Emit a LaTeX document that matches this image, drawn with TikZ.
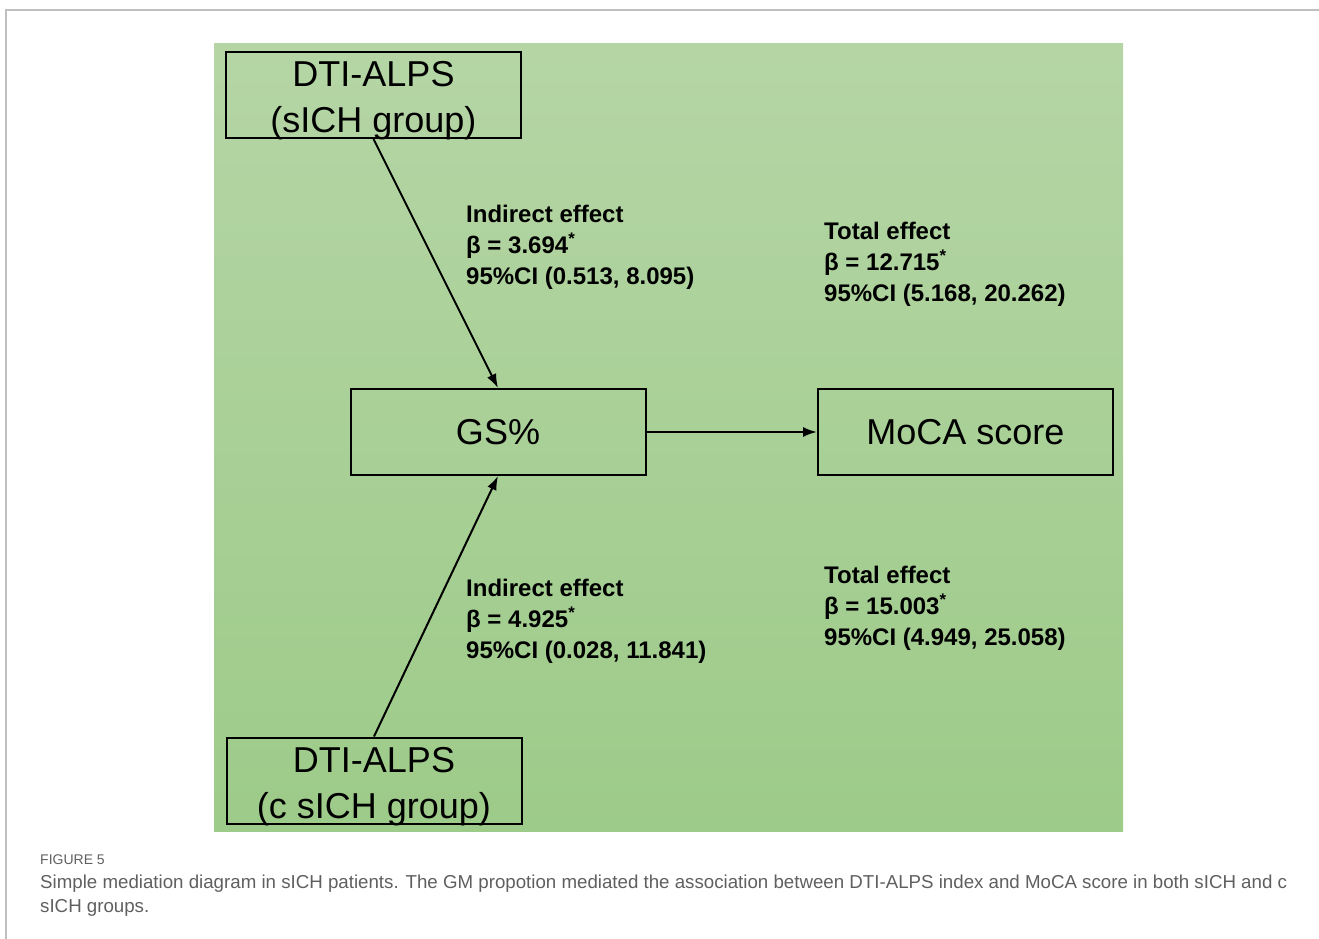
\documentclass[tikz,border=0pt]{standalone}
\usepackage{fontspec}
\setmainfont{Liberation Sans}
\usepackage{tikz}
\usetikzlibrary{arrows.meta, positioning}
\definecolor{framegray}{rgb}{0.75, 0.75, 0.75}
\definecolor{greentop}{RGB}{181, 213, 165}
\definecolor{greenbot}{RGB}{157, 203, 137}
\definecolor{captiongray}{RGB}{95, 95, 95}
\newcommand{\twolines}[2]{\raisebox{-12pt}[0pt][0pt]{\begin{tabular}{@{}c@{}}#1\\#2\end{tabular}}}

\begin{document}
\begin{tikzpicture}[x=1pt, y=-1pt,
		varbox/.style={draw, line width=2pt, minimum width=295pt, minimum height=86pt, inner sep=0pt, align=center, font=\fontsize{36}{46}\selectfont},
		effect/.style={anchor=west, align=left, inner sep=0pt, font=\fontsize{24}{31}\selectfont\bfseries},
		link/.style={line width=2pt, -{Latex[length=14pt, width=10pt]}}]
		\useasboundingbox (0,0) rectangle (1319,939);
		\draw [framegray, line width=2pt] (6,939)--(6,10.5)--(1319,10.5);
		\shade [top color=greentop, bottom color=greenbot] (214,44) rectangle (1123,831);
		\node [varbox] (alpstop) at (373.5,95) {\twolines{DTI-ALPS}{(sICH group)}};
		\node [varbox] (gs) at (498,432) {GS\%};
		\node [varbox] (moca) at (965.5,432) {MoCA score};
		\node [varbox] (alpsbot) at (374,780.5) {\twolines{DTI-ALPS}{(c sICH group)}};
		\draw [link] (alpstop.south)--(gs.north);
		\draw [link] (alpsbot.north)--(gs.south);
		\draw [link] (gs.east)--(moca.west);
		\node [effect] (indtop) at (466,247) {Indirect effect\\β = 3.694\textsuperscript{*}\\95\%CI (0.513, 8.095)};
		\node [effect] (indbot) at (466,621) {Indirect effect\\β = 4.925\textsuperscript{*}\\95\%CI (0.028, 11.841)};
		\node [effect] (tottop) at (824,264) {Total effect\\β = 12.715\textsuperscript{*}\\95\%CI (5.168, 20.262)};
		\node [effect] (totbot) at (824,608) {Total effect\\β = 15.003\textsuperscript{*}\\95\%CI (4.949, 25.058)};
		\node [anchor=west, inner sep=0pt, captiongray, font=\fontsize{14}{16}\selectfont] (figno) at (40,860) {FIGURE 5};
		\node [anchor=north west, inner sep=0pt, align=left, captiongray, font=\fontsize{18.7}{24}\selectfont] (caption) at (40,875) {Simple mediation diagram in sICH patients. The GM propotion mediated the association between DTI-ALPS index and MoCA score in both sICH and c\\sICH groups.};
	\end{tikzpicture}
\end{document}
